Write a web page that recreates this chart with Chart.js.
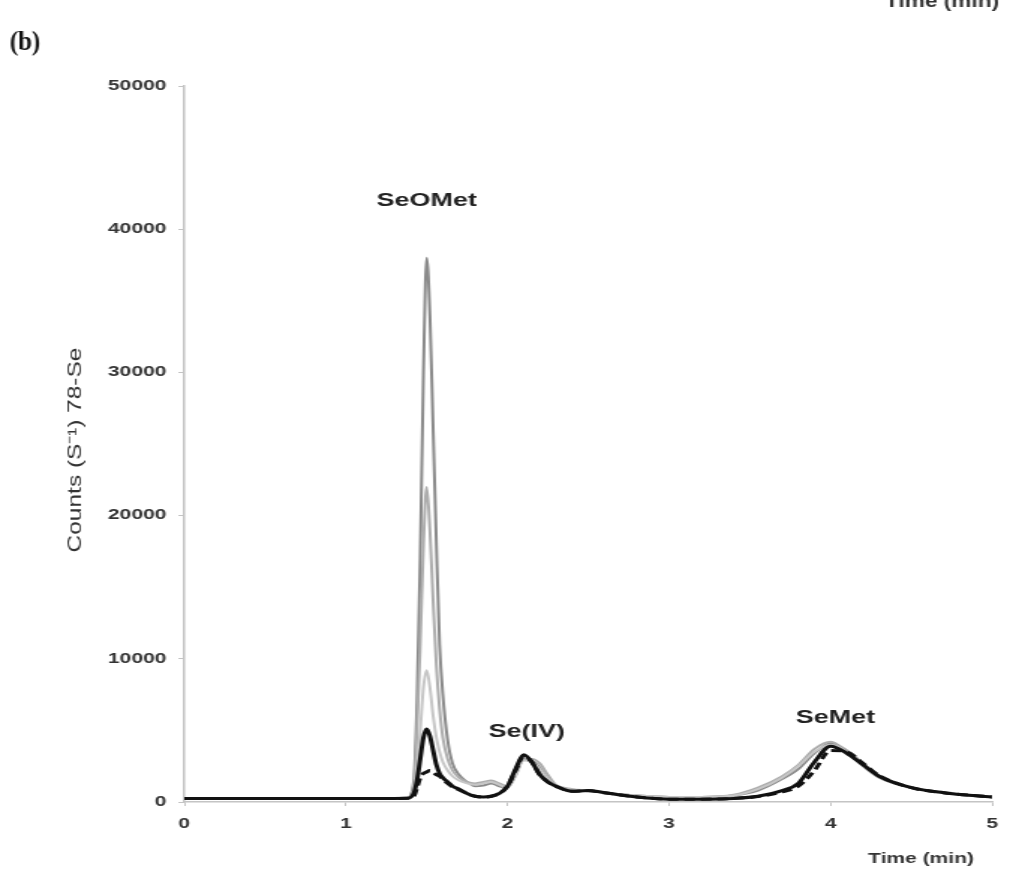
<!DOCTYPE html>
<html><head><meta charset="utf-8">
<script src="https://cdn.jsdelivr.net/npm/chart.js@4.4.1/dist/chart.umd.min.js"></script>
<style>
html,body{margin:0;padding:0;background:#fff;overflow:hidden;}
#wrap{position:absolute;left:0;top:0;width:676px;height:875px;transform:scaleX(1.4985);transform-origin:0 0;}
canvas{display:block;}
</style></head><body>
<div id="wrap"><canvas id="c" width="676" height="875"></canvas></div>
<script>
// Retention time (min)
const times = [0,0.5,1.0,1.3,1.38, 1.42,1.44,1.46,1.48,1.50, 1.52,1.54,1.56,1.58,1.60, 1.63,1.66,1.70,1.75,1.80, 1.85,1.90,1.95,2.00,2.05, 2.10,2.15,2.20,2.25,2.30, 2.40,2.50,2.60,2.80,3.00, 3.20,3.40,3.55,3.70,3.80, 3.90,4.00,4.10,4.20,4.30, 4.50,4.70,5.00];
// Counts per chromatogram
const seriesGrayDark = [250,250,250,250,280, 1500,7000,17000,30000,38000, 34000,26000,18000,11000,7500, 4300,2700,1900,1400,1100, 1150,1300,1100,1000,1900, 3000,2900,2400,1600,1100, 850,800,650,450,350, 350,450,800,1600,2300, 3400,4100,3600,2700,1800, 1000,650,350];
const seriesGrayMid = [250,250,250,250,280, 1200,5000,11000,18000,22000, 19000,14000,9500,6500,4500, 3000,2200,1700,1400,1300, 1400,1500,1300,1100,1900, 3000,3000,2700,1900,1200, 900,800,650,450,350, 350,500,1000,1800,2600, 3700,4200,3500,2500,1700, 1000,650,350];
const seriesGrayLight = [250,250,250,250,280, 800,2500,5000,8000,9200, 8000,6000,4500,3500,2800, 2200,1800,1500,1300,1200, 1300,1400,1200,1000,1800, 2900,2800,2300,1600,1100, 850,800,650,450,350, 350,450,900,1700,2500, 3500,4000,3500,2600,1800, 1000,650,350];
const seriesBlack = [250,250,250,250,260, 600,1500,3000,4500,5100, 4600,3600,2600,2000,1700, 1400,1100,900,600,400, 350,400,600,1100,2300, 3300,2800,1900,1400,1100, 750,800,650,350,200, 200,250,400,800,1300, 2800,3900,3400,2600,1800, 1000,650,350];
const seriesBlackDashed = [250,250,250,250,260, 400,1000,1700,2000,2100, 2200,2100,1900,1800,1600, 1300,1050,850,600,400, 350,400,600,1100,2200, 3200,2800,1900,1400,1100, 750,780,650,350,200, 200,250,380,700,1100, 2200,3600,3500,2700,1850, 1000,650,350];
// Peak annotations
const peakNames = ['SeOMet','Se(IV)','SeMet'];
const peakTimes = [1.50, 2.12, 4.03];
const peakLevels = [42000, 4900, 5850];

const pts = arr => times.map((t,i)=>({x:t,y:arr[i]}));
const mk = (arr,color,w,order,dash) => ({data:pts(arr),borderColor:color,borderWidth:w,borderDash:dash||[],order:order,pointRadius:0,fill:false,cubicInterpolationMode:'monotone'});

const SX = 1.4985;
const FONT = '"Liberation Sans", Arial, sans-serif';
const textPlugin = {
  id:'texts',
  afterDraw(chart){
    const ctx = chart.ctx, xs = chart.scales.x, ys = chart.scales.y;
    ctx.save();
    ctx.fillStyle = '#222';
    ctx.textAlign = 'center'; ctx.textBaseline = 'middle';
    ctx.font = 'bold 18px ' + FONT;
    peakNames.forEach((n,i)=>ctx.fillText(n, xs.getPixelForValue(peakTimes[i]), ys.getPixelForValue(peakLevels[i])));
    // y-axis title (rotated, stretched along its length)
    ctx.save();
    ctx.fillStyle = '#333';
    ctx.font = '13px ' + FONT;
    const yt = 'Counts (S\u207B\u00B9) 78-Se';
    const w = ctx.measureText(yt).width;
    ctx.translate(75/SX, 450);
    ctx.rotate(-Math.PI/2);
    ctx.scale(205/w, 1);
    ctx.fillText(yt, 0, 0);
    ctx.restore();
    // x-axis title
    ctx.fillStyle = '#333';
    ctx.font = 'bold 14px ' + FONT;
    ctx.fillText('Time (min)', 921/SX, 859);
    // clipped title at top right
    ctx.textBaseline = 'alphabetic';
    ctx.font = 'bold 18px ' + FONT;
    ctx.save();
    ctx.translate(942/SX, 7);
    ctx.scale(0.84, 1);
    ctx.fillText('Time (min)', 0, 0);
    ctx.restore();
    // panel label
    ctx.save();
    ctx.translate(25/SX, 43);
    ctx.scale(0.9/SX, 1);
    ctx.fillStyle = '#111';
    ctx.textBaseline = 'middle';
    ctx.font = 'bold 28px "Liberation Serif", "Times New Roman", serif';
    ctx.fillText('(b)', 0, 0);
    ctx.restore();
    ctx.restore();
  }
};

const tickFont = {family:FONT, size:14, weight:'bold'};
new Chart(document.getElementById('c'), {
  type:'line',
  data:{datasets:[
    mk(seriesGrayDark,'#8a8a8a',2,4),
    mk(seriesGrayMid,'#adadad',2,3),
    mk(seriesGrayLight,'#c6c6c6',2,2),
    mk(seriesBlack,'#111111',3,1),
    mk(seriesBlackDashed,'#111111',3,0,[7,4])
  ]},
  options:{
    responsive:false, animation:false,
    layout:{padding:{left:41,top:86,right:7,bottom:0}},
    plugins:{legend:{display:false},tooltip:{enabled:false}},
    scales:{
      x:{type:'linear',min:0,max:5,
        ticks:{stepSize:1,font:tickFont,color:'#333',padding:10,maxRotation:0},
        grid:{drawOnChartArea:false,drawTicks:true,tickLength:4,color:'#c4c4c4'},
        border:{color:'#c4c4c4',width:1.5},
        afterFit:s=>{s.height=73;}
      },
      y:{min:0,max:50000,
        ticks:{stepSize:10000,font:tickFont,color:'#333',padding:8,callback:v=>String(v)},
        grid:{drawOnChartArea:false,drawTicks:true,tickLength:4,color:'#c4c4c4'},
        border:{color:'#c4c4c4',width:1.5},
        title:{display:false},
        afterFit:s=>{s.width=82;}
      }
    }
  },
  plugins:[textPlugin]
});
</script>
</body></html>
